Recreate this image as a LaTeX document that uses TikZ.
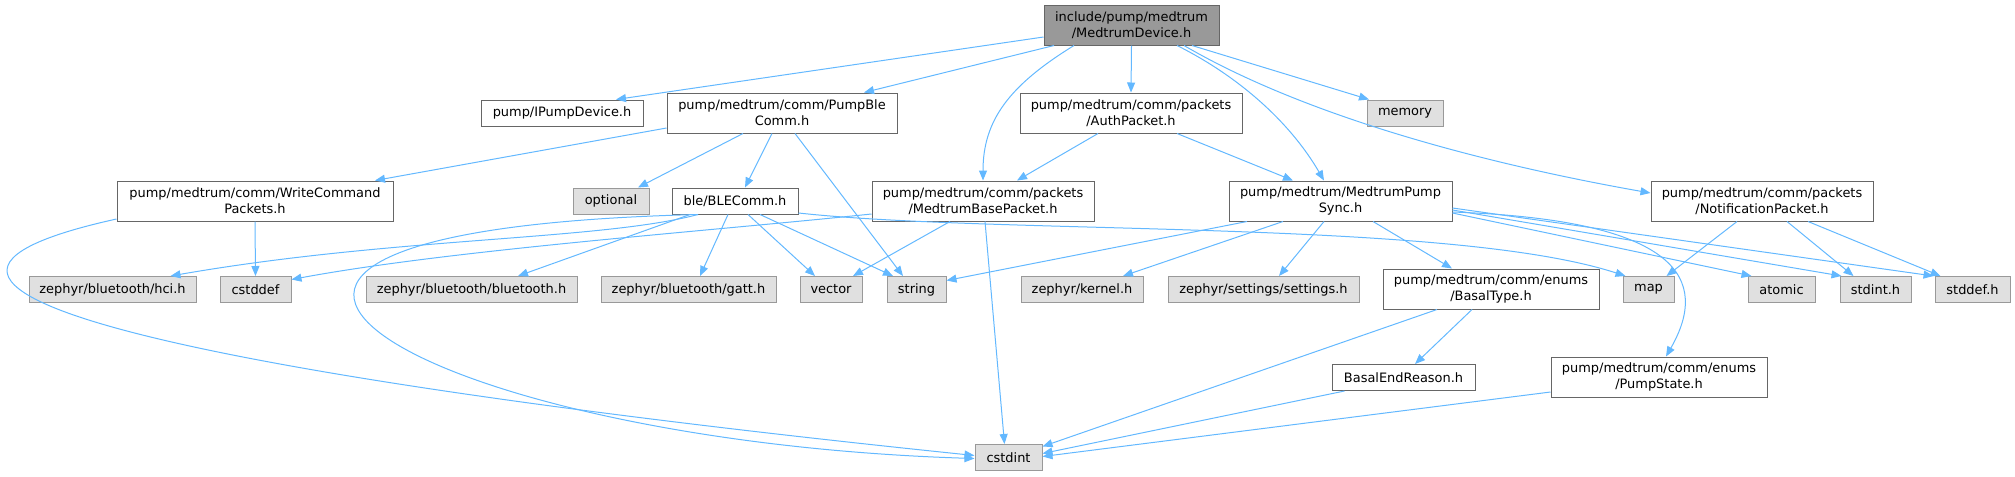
\documentclass[tikz,border=0pt]{standalone}
\usepackage{fontspec}
\setmainfont{DejaVu Sans}
\usetikzlibrary{arrows.meta,calc}
\definecolor{EdgeBlue}{HTML}{63B8FF}
\definecolor{FileBorder}{HTML}{666666}
\definecolor{SysBorder}{HTML}{999999}
\definecolor{SysFill}{HTML}{E0E0E0}
\definecolor{RootFill}{HTML}{999999}

\begin{document}
\begin{tikzpicture}[x=0.75pt, y=-0.75pt,
    file/.style={draw=FileBorder, fill=white, line width=0.75pt, inner sep=0pt,
                 minimum height=19.5pt, align=center, font=\fontsize{9.7}{12}\selectfont},
    two/.style={minimum height=30pt},
    sys/.style={file, draw=SysBorder, fill=SysFill},
    top/.style={file, two, fill=RootFill},
    bw/.style={minimum width=#1*0.75pt},
    dep/.style={-{Triangle[length=7.5pt,width=6pt]}, draw=EdgeBlue, line width=0.75pt}
]
    \useasboundingbox (0,0) rectangle (2015,476);

    \node[top, bw=175] (root) at (1131.5,25) {include/pump/medtrum\\/MedtrumDevice.h};
    \node[file, bw=162] (ipd) at (562,113) {pump/IPumpDevice.h};
    \node[file, two, bw=230] (pbc) at (782,113) {pump/medtrum/comm/PumpBle\\Comm.h};
    \node[file, two, bw=222] (auth) at (1131,113) {pump/medtrum/comm/packets\\/AuthPacket.h};
    \node[sys, bw=76] (mem) at (1405,113) {memory};

    \node[file, two, bw=276] (wcp) at (255,201) {pump/medtrum/comm/WriteCommand\\Packets.h};
    \node[sys, bw=76] (opt) at (611,201) {optional};
    \node[file, bw=126] (ble) at (735,201) {ble/BLEComm.h};
    \node[file, two, bw=222] (mbp) at (983,201) {pump/medtrum/comm/packets\\/MedtrumBasePacket.h};
    \node[file, two, bw=223] (mps) at (1340.5,201) {pump/medtrum/MedtrumPump\\Sync.h};
    \node[file, two, bw=222] (np) at (1762,201) {pump/medtrum/comm/packets\\/NotificationPacket.h};

    \node[sys, bw=167] (hci) at (112.5,289.5) {zephyr/bluetooth/hci.h};
    \node[sys, bw=71] (cdef) at (255.5,289.5) {cstddef};
    \node[sys, bw=211] (bt) at (471.5,289.5) {zephyr/bluetooth/bluetooth.h};
    \node[sys, bw=175] (gatt) at (688.5,289.5) {zephyr/bluetooth/gatt.h};
    \node[sys, bw=62] (vec) at (831,289.5) {vector};
    \node[sys, bw=59] (str) at (916.5,289.5) {string};
    \node[sys, bw=122] (kern) at (1082,289.5) {zephyr/kernel.h};
    \node[sys, bw=191] (sett) at (1263.5,289.5) {zephyr/settings/settings.h};
    \node[file, two, bw=216] (btype) at (1491,289) {pump/medtrum/comm/enums\\/BasalType.h};
    \node[sys, bw=51] (stlmap) at (1648.5,289.5) {map};
    \node[sys, bw=67] (atom) at (1781.5,289.5) {atomic};
    \node[sys, bw=71] (sint) at (1875.5,289.5) {stdint.h};
    \node[sys, bw=75] (sdef) at (1972.5,289.5) {stddef.h};

    \node[file, bw=143] (ber) at (1403.5,377.5) {BasalEndReason.h};
    \node[file, two, bw=216] (pst) at (1659,377) {pump/medtrum/comm/enums\\/PumpState.h};
    \node[sys, bw=67] (cint) at (1008.5,457.5) {cstdint};

    \draw[dep] ($(root.west)+(0,12)$) -- ($(ipd.north)+(54,0)$);
    \draw[dep] ($(root.south)+(-77.5,0)$) -- ($(pbc.north)+(82,0)$);
    \draw[dep] ($(root.south)+(-57.5,0)$) .. controls +(-65,40) and +(0,-60) .. (mbp.north);
    \draw[dep] (root.south) -- (auth.north);
    \draw[dep] ($(root.south)+(45.5,0)$) .. controls +(60,30) and +(-35,-60) .. ($(mps.north)+(-16.5,0)$);
    \draw[dep] ($(root.south)+(52.5,0)$) .. controls +(120,70) and +(-170,-30) .. ($(np.west)+(0,-8)$);
    \draw[dep] ($(root.south)+(60.5,0)$) -- ($(mem.north)+(-36,0)$);

    \draw[dep] ($(pbc.west)+(0,15)$) -- ($(wcp.north)+(120,0)$);
    \draw[dep] ($(pbc.south)+(-39,0)$) -- ($(opt.north)+(27,0)$);
    \draw[dep] ($(pbc.south)+(-10,0)$) -- ($(ble.north)+(10,0)$);
    \draw[dep] ($(pbc.south)+(13,0)$) -- ($(str.north)+(-13.5,0)$);

    \draw[dep] ($(auth.south)+(-33,0)$) -- ($(mbp.north)+(34,0)$);
    \draw[dep] ($(auth.south)+(46,0)$) -- ($(mps.north)+(-47.5,0)$);

    \draw[dep] (wcp.south) -- (cdef.north);
    \draw[dep] ($(wcp.west)+(0,18)$) .. controls +(-367,81) and +(-600,-62) .. ($(cint.west)+(0,-2)$);

    \draw[dep] ($(ble.south)+(-37,0)$) .. controls +(-98,26) and +(224,-39) .. ($(hci.north)+(58,0)$);
    \draw[dep] ($(ble.south)+(-45,0)$) -- ($(bt.north)+(46.5,0)$);
    \draw[dep] ($(ble.south)+(-7,0)$) -- ($(gatt.north)+(11.5,0)$);
    \draw[dep] ($(ble.south)+(13,0)$) -- ($(vec.north)+(-16,0)$);
    \draw[dep] ($(ble.south)+(25,0)$) -- ($(str.north)+(-23.5,0)$);
    \draw[dep] ($(ble.south)+(-37,0)$) .. controls +(-648,16) and +(-555,-17.5) .. ($(cint.west)+(0,1)$);
    \draw[dep] ($(ble.east)+(0,12)$) .. controls +(202,22) and +(-175,-57) .. ($(stlmap.north)+(-23,0)$);

    \draw[dep] ($(mbp.west)+(0,13)$) .. controls +(-172,18) and +(159,-29.5) .. ($(cdef.east)+(0,-10)$);
    \draw[dep] ($(mbp.south)+(-33,0)$) -- ($(vec.north)+(22,0)$);
    \draw[dep] ($(mbp.south)+(2,0)$) -- ($(cint.north)+(-4,0)$);

    \draw[dep] ($(mps.south)+(-93.5,0)$) -- ($(str.east)+(0,-9)$);
    \draw[dep] ($(mps.south)+(-57.5,0)$) -- ($(kern.north)+(41,0)$);
    \draw[dep] ($(mps.south)+(-16.5,0)$) -- ($(sett.north)+(15.5,0)$);
    \draw[dep] ($(mps.south)+(32.5,0)$) -- ($(btype.north)+(-39,0)$);
    \draw[dep] ($(mps.east)+(0,12)$) -- ($(atom.north)+(-30,0)$);
    \draw[dep] ($(mps.east)+(0,9)$) -- ($(sint.north)+(-34,0)$);
    \draw[dep] ($(mps.east)+(0,7)$) -- ($(sdef.north)+(-39,0)$);
    \draw[dep] ($(mps.east)+(0,11)$) .. controls +(228,8) and +(44,-77) .. ($(pst.north)+(7,0)$);

    \draw[dep] ($(np.south)+(-25,0)$) -- ($(stlmap.north)+(18,0)$);
    \draw[dep] ($(np.south)+(25,0)$) -- ($(sint.north)+(-22,0)$);
    \draw[dep] ($(np.south)+(46,0)$) -- ($(sdef.north)+(-32,0)$);

    \draw[dep] ($(btype.south)+(-19,0)$) -- ($(ber.north)+(11.5,0)$);
    \draw[dep] ($(btype.south)+(-54,0)$) -- ($(cint.east)+(0,-11)$);
    \draw[dep] ($(ber.south west)+(13,0)$) -- ($(cint.east)+(0,-4)$);
    \draw[dep] ($(pst.west)+(0,15)$) -- ($(cint.east)+(0,-1)$);
\end{tikzpicture}
\end{document}
